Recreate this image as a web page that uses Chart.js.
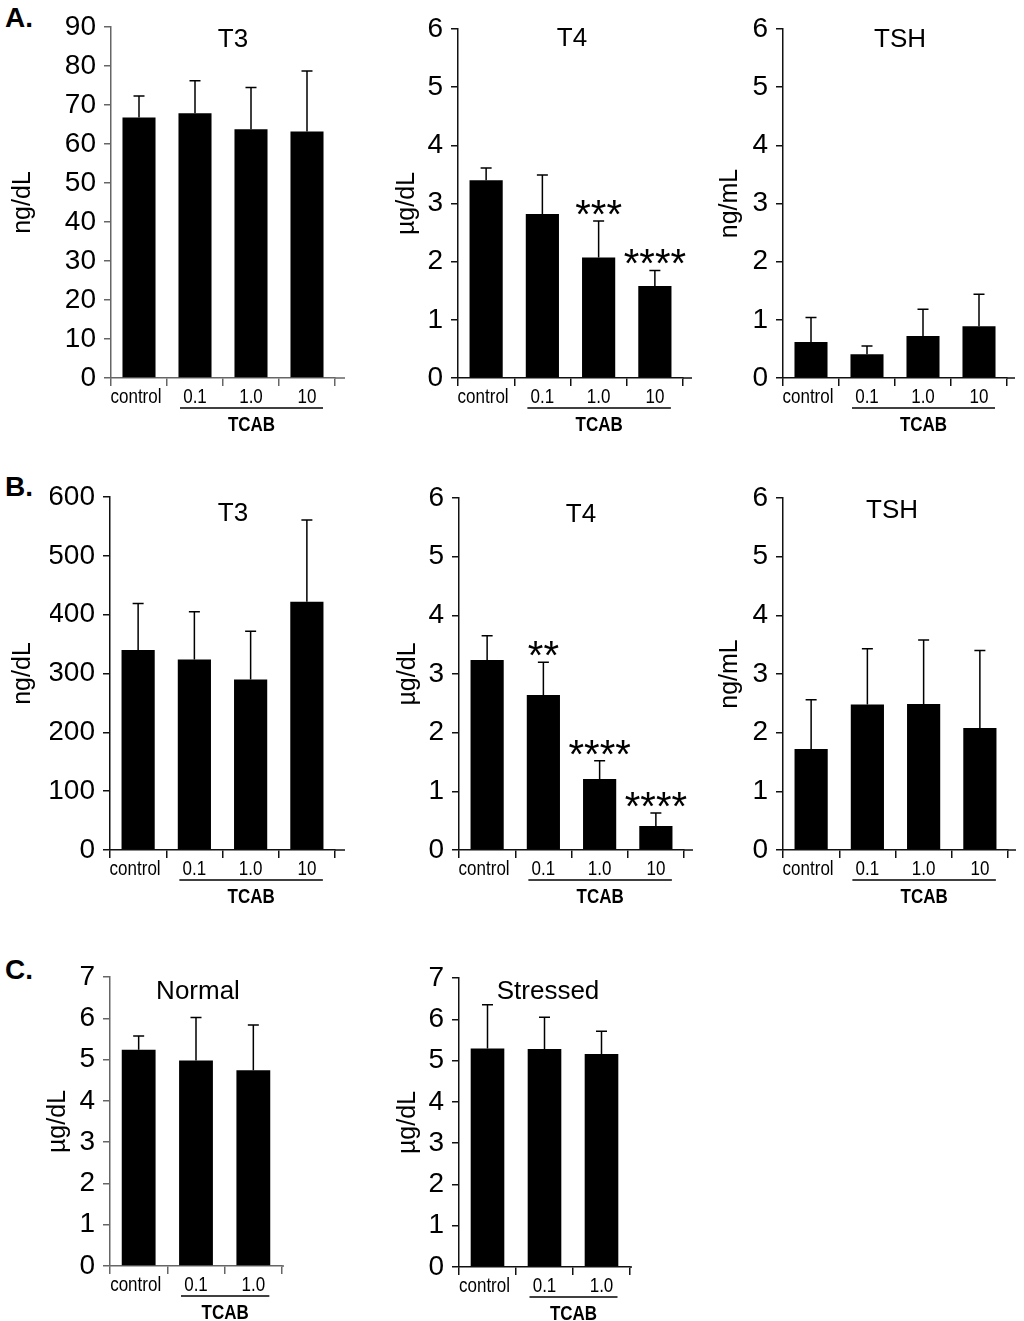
<!DOCTYPE html>
<html>
<head>
<meta charset="utf-8">
<title>Thyroid hormones after TCAB exposure</title>
<script src="https://cdn.jsdelivr.net/npm/chart.js@4.4.1/dist/chart.umd.min.js"></script>
<style>
  body { margin: 0; background: #fff; }
  #fig { position: relative; width: 1024px; height: 1321px; overflow: hidden;
         font-family: "Liberation Sans", Arial, sans-serif; color: #000; }
  #fig canvas { position: absolute; }
  .tag { position: absolute; left: 5px; font-weight: bold; font-size: 28px; line-height: 28px; }
</style>
</head>
<body>
<div id="fig">
  <div class="tag" style="top:4px">A.</div>
  <div class="tag" style="top:473px">B.</div>
  <div class="tag" style="top:956px">C.</div>
</div>
<script>
// categories
const doseLabels4 = ['control', '0.1', '1.0', '10'];
const doseLabels3 = ['control', '0.1', '1.0'];

// A. (means and upper error)
const aT3Mean = [66.8, 67.9, 63.8, 63.2];
const aT3Err = [5.5, 8.3, 10.7, 15.5];
const aT4Mean = [3.40, 2.82, 2.07, 1.58];
const aT4Err = [0.21, 0.67, 0.63, 0.27];
const aT4Stars = ['', '', '***', '****'];
const aTshMean = [0.62, 0.41, 0.72, 0.89];
const aTshErr = [0.42, 0.14, 0.46, 0.55];

// B.
const bT3Mean = [340, 324, 290, 422];
const bT3Err = [79, 81, 82, 139];
const bT4Mean = [3.24, 2.64, 1.21, 0.41];
const bT4Err = [0.41, 0.56, 0.31, 0.22];
const bT4Stars = ['', '**', '****', '****'];
const bTshMean = [1.72, 2.48, 2.49, 2.08];
const bTshErr = [0.84, 0.95, 1.09, 1.32];

// C.
const cNormalMean = [5.24, 4.98, 4.74];
const cNormalErr = [0.33, 1.04, 1.10];
const cStressedMean = [5.29, 5.28, 5.16];
const cStressedErr = [1.06, 0.77, 0.55];

const FONT = '"Liberation Sans", Arial, sans-serif';
Chart.defaults.font.family = FONT;
Chart.defaults.color = '#000';

// placement of each panel on the page (axis origin, top of y range, last x tick)
const panels = [
  { title: 'T3', unit: 'ng/dL', labels: doseLabels4, mean: aT3Mean, err: aT3Err, max: 90, step: 10,
    axisX: 111, top: 27, bottom: 378, right: 335, tx: 233, ty: 40, unitDx: 88, axisColor: '#666', ext: 10 },
  { title: 'T4', unit: 'µg/dL', labels: doseLabels4, mean: aT4Mean, err: aT4Err, stars: aT4Stars, max: 6, step: 1,
    axisX: 458, top: 29, bottom: 378, right: 683, tx: 572, ty: 39, unitDx: 51, axisColor: '#111', ext: 9 },
  { title: 'TSH', unit: 'ng/mL', labels: doseLabels4, mean: aTshMean, err: aTshErr, max: 6, step: 1,
    axisX: 783, top: 29, bottom: 378, right: 1007, tx: 900, ty: 40, unitDx: 53, axisColor: '#111', ext: 8 },
  { title: 'T3', unit: 'ng/dL', labels: doseLabels4, mean: bT3Mean, err: bT3Err, max: 600, step: 100,
    axisX: 110, top: 497, bottom: 850, right: 335, tx: 233, ty: 514, unitDx: 87, axisColor: '#111', ext: 10 },
  { title: 'T4', unit: 'µg/dL', labels: doseLabels4, mean: bT4Mean, err: bT4Err, stars: bT4Stars, max: 6, step: 1,
    axisX: 459, top: 498, bottom: 850, right: 684, tx: 581, ty: 515, unitDx: 51, axisColor: '#111', ext: 9 },
  { title: 'TSH', unit: 'ng/mL', labels: doseLabels4, mean: bTshMean, err: bTshErr, max: 6, step: 1,
    axisX: 783, top: 498, bottom: 850, right: 1008, tx: 892, ty: 511, unitDx: 53, axisColor: '#111', ext: 8 },
  { title: 'Normal', unit: 'µg/dL', labels: doseLabels3, mean: cNormalMean, err: cNormalErr, max: 7, step: 1,
    axisX: 110, top: 977, bottom: 1266, right: 282, tx: 198, ty: 992, unitDx: 52, axisColor: '#666', ext: 2 },
  { title: 'Stressed', unit: 'µg/dL', labels: doseLabels3, mean: cStressedMean, err: cStressedErr, max: 7, step: 1,
    axisX: 459, top: 978, bottom: 1267, right: 630, tx: 548, ty: 992, unitDx: 51, axisColor: '#111', ext: 2 },
];

const PAD_L = 110, PAD_T = 30, PAD_R = 20, X_H = 62, Y_W = 60;
const NARROW = 0.85; // the x labels in the figure are horizontally condensed

function narrowText(ctx, text, x, y) {
  ctx.save();
  ctx.translate(x, y);
  ctx.scale(NARROW, 1);
  ctx.fillText(text, 0, 0);
  ctx.restore();
}

function extras(p, ox, oy) {
  return {
    id: 'panelExtras',
    afterDatasetsDraw: function (chart) {
      const ctx = chart.ctx;
      const xs = chart.scales.x;
      const ys = chart.scales.y;
      const area = chart.chartArea;
      ctx.save();

      // upper error bars + significance stars
      ctx.strokeStyle = '#000';
      ctx.lineWidth = 1.5;
      p.mean.forEach(function (v, i) {
        const x = xs.getPixelForValue(i);
        const y0 = ys.getPixelForValue(v);
        const y1 = ys.getPixelForValue(v + p.err[i]);
        ctx.beginPath();
        ctx.moveTo(x, y0);
        ctx.lineTo(x, y1);
        ctx.moveTo(x - 5.5, y1);
        ctx.lineTo(x + 5.5, y1);
        ctx.stroke();
        if (p.stars && p.stars[i]) {
          ctx.fillStyle = '#000';
          ctx.font = '40px ' + FONT;
          ctx.textAlign = 'center';
          ctx.textBaseline = 'alphabetic';
          ctx.fillText(p.stars[i], x, y1 + 7);
        }
      });

      // x axis runs a little past the last tick
      ctx.strokeStyle = p.axisColor;
      ctx.beginPath();
      ctx.moveTo(area.right, area.bottom);
      ctx.lineTo(area.right + p.ext, area.bottom);
      ctx.stroke();

      // category labels, condensed like the original
      ctx.fillStyle = '#000';
      ctx.textAlign = 'center';
      ctx.textBaseline = 'middle';
      ctx.font = '20px ' + FONT;
      p.labels.forEach(function (lab, i) {
        narrowText(ctx, lab, xs.getPixelForValue(i) - (i === 0 ? 3 : 0), area.bottom + 19);
      });

      // TCAB bracket under the dose groups
      const n = p.labels.length;
      const x1 = xs.getPixelForValue(1) - 15;
      const x2 = xs.getPixelForValue(n - 1) + 16;
      ctx.strokeStyle = '#000';
      ctx.beginPath();
      ctx.moveTo(x1, area.bottom + 30);
      ctx.lineTo(x2, area.bottom + 30);
      ctx.stroke();
      ctx.font = 'bold 20px ' + FONT;
      narrowText(ctx, 'TCAB', (x1 + x2) / 2, area.bottom + 47);

      // panel title
      ctx.font = '26px ' + FONT;
      ctx.fillText(p.title, p.tx - ox, p.ty - oy);

      // y axis unit
      ctx.translate(p.axisX - p.unitDx - ox, (area.top + area.bottom) / 2);
      ctx.rotate(-Math.PI / 2);
      ctx.font = '25px ' + FONT;
      ctx.fillText(p.unit, 0, 0);

      ctx.restore();
    },
  };
}

function makePanel(p) {
  const fig = document.getElementById('fig');
  const w = PAD_L + (p.right - p.axisX) + PAD_R;
  const h = PAD_T + (p.bottom - p.top) + X_H;
  const ox = p.axisX - PAD_L;
  const oy = p.top - PAD_T;
  const cv = document.createElement('canvas');
  cv.width = w;
  cv.height = h;
  cv.style.left = ox + 'px';
  cv.style.top = oy + 'px';
  cv.style.width = w + 'px';
  cv.style.height = h + 'px';
  fig.appendChild(cv);

  return new Chart(cv, {
    type: 'bar',
    data: {
      labels: p.labels,
      datasets: [
        {
          data: p.mean,
          backgroundColor: '#000',
          borderWidth: 0,
          barPercentage: 0.59,
          categoryPercentage: 1,
        },
      ],
    },
    options: {
      responsive: false,
      animation: false,
      layout: { padding: { left: PAD_L - Y_W, top: PAD_T, right: PAD_R, bottom: 0 } },
      plugins: { legend: { display: false }, tooltip: { enabled: false } },
      scales: {
        x: {
          offset: true,
          grid: { offset: true, drawOnChartArea: false, tickLength: 8, color: p.axisColor, lineWidth: 1.5 },
          border: { color: p.axisColor, width: 1.5 },
          ticks: { display: false },
          afterFit: function (s) { s.height = X_H; },
        },
        y: {
          min: 0,
          max: p.max,
          ticks: { stepSize: p.step, font: { size: 28 }, padding: 8, autoSkip: false },
          grid: { drawOnChartArea: false, tickLength: 7, color: p.axisColor, lineWidth: 1.5 },
          border: { color: p.axisColor, width: 1.5 },
          afterFit: function (s) { s.width = Y_W; },
        },
      },
    },
    plugins: [extras(p, ox, oy)],
  });
}

panels.forEach(makePanel);
</script>
</body>
</html>
